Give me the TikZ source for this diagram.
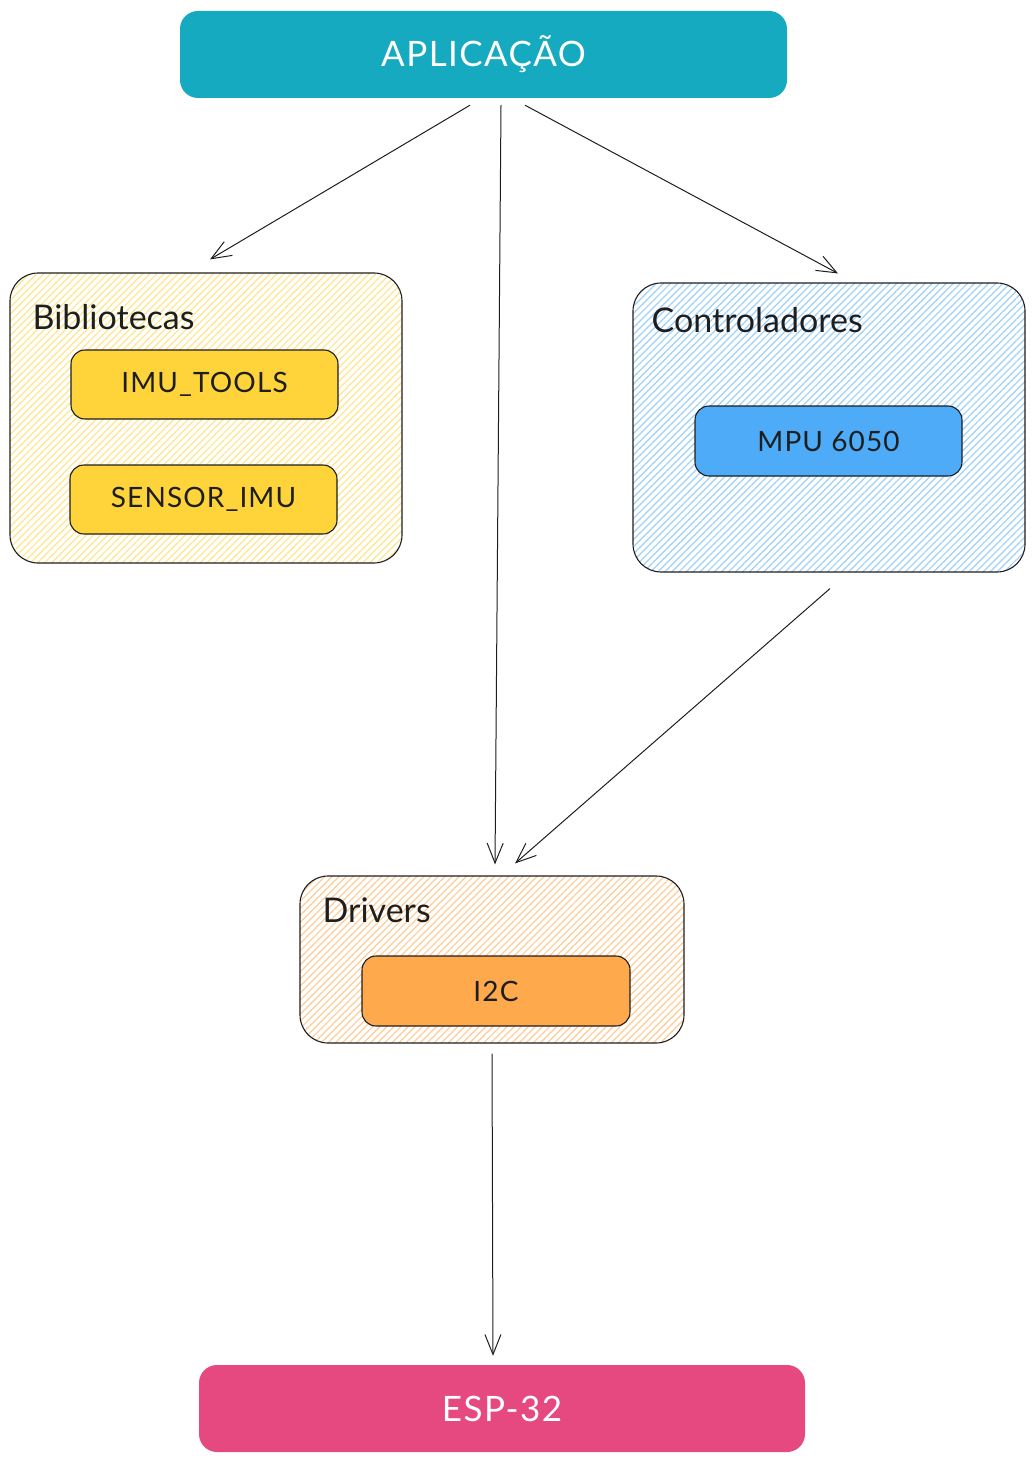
\documentclass[tikz,border=0pt]{standalone}
\usepackage{fontspec}
\setmainfont{Lato}
\usepackage{tikz}
\usetikzlibrary{positioning,arrows.meta,patterns.meta}
\definecolor{appteal}{HTML}{15AABF}
\definecolor{esppink}{HTML}{E64980}
\definecolor{libyellow}{HTML}{FFD43B}
\definecolor{ctlblue}{HTML}{4DABF7}
\definecolor{drvorange}{HTML}{FFA94D}
\definecolor{ink}{HTML}{1E1E1E}
\tikzstyle{layer}=[rectangle, rounded corners=18pt, draw=none, inner sep=0pt,
  text=white, font=\fontsize{35}{40}\selectfont\addfontfeature{LetterSpace=4}]
\tikzstyle{group}=[rectangle, rounded corners=28pt, draw=ink, line width=1.1pt,
  inner sep=0pt, minimum width=392pt]
\tikzstyle{module}=[rectangle, rounded corners=14pt, draw=ink, line width=1.1pt,
  inner sep=0pt, minimum width=267pt, minimum height=69pt, text=ink,
  font=\fontsize{28}{32}\selectfont\addfontfeature{LetterSpace=4}]
\tikzstyle{grouptitle}=[anchor=west, inner sep=0pt, text=ink,
  font=\fontsize{34}{38}\selectfont]
\tikzstyle{link}=[draw=ink, line width=1pt, -{Straight Barb[length=20pt,width=16pt]}]

\begin{document}
\begin{tikzpicture}[x=1pt, y=1pt]
  \useasboundingbox (0,0) rectangle (1035,-1463);

  % top and bottom layers
  \node (app) [layer, fill=appteal, minimum width=607pt, minimum height=87pt]
        at (483.5,-54.5) {APLICAÇÃO};
  \node (esp) [layer, fill=esppink, minimum width=606pt, minimum height=87pt]
        at (502,-1408.5) {ESP-32};

  % libraries
  \node (bib) [group, minimum height=290pt,
        pattern={Lines[angle=45,distance=5pt,line width=1.2pt]},
        pattern color=libyellow!60] at (206,-418) {};
  \node (bibtitle) [grouptitle] at ([shift={(23,-45)}]bib.north west) {Bibliotecas};
  \node (imu) [module, fill=libyellow] at (204.5,-384.5) {IMU\_TOOLS};
  \node (sens) [module, fill=libyellow] at (203.5,-499.5) {SENSOR\_IMU};

  % controllers
  \node (ctl) [group, minimum height=289pt,
        pattern={Lines[angle=45,distance=5pt,line width=1.2pt]},
        pattern color=ctlblue!55] at (829,-427.5) {};
  \node (ctltitle) [grouptitle] at ([shift={(19,-38)}]ctl.north west) {Controladores};
  \node (mpu) [module, fill=ctlblue, minimum height=70pt] at (828.5,-441) {MPU 6050};

  % drivers
  \node (drv) [group, minimum width=384pt, minimum height=167pt,
        pattern={Lines[angle=45,distance=5pt,line width=1.2pt]},
        pattern color=drvorange!60] at (492,-959.5) {};
  \node (drvtitle) [grouptitle] at ([shift={(23,-35)}]drv.north west) {Drivers};
  \node (i2c) [module, fill=drvorange, minimum width=268pt, minimum height=70pt]
        at (496,-991) {I2C};

  % connections
  \draw [link] ([shift={(-13.5,-7)}]app.south) -- ([shift={(4,13)}]bib.north);
  \draw [link] ([shift={(17.5,-7)}]app.south) -- ([shift={(3,11)}]drv.north);
  \draw [link] ([shift={(41.5,-7)}]app.south) -- ([shift={(9,9)}]ctl.north);
  \draw [link] ([shift={(1,-16)}]ctl.south) -- ([shift={(23,12)}]drv.north);
  \draw [link] ([shift={(0,-10)}]drv.south) -- ([shift={(-9,9)}]esp.north);

\end{tikzpicture}
\end{document}
